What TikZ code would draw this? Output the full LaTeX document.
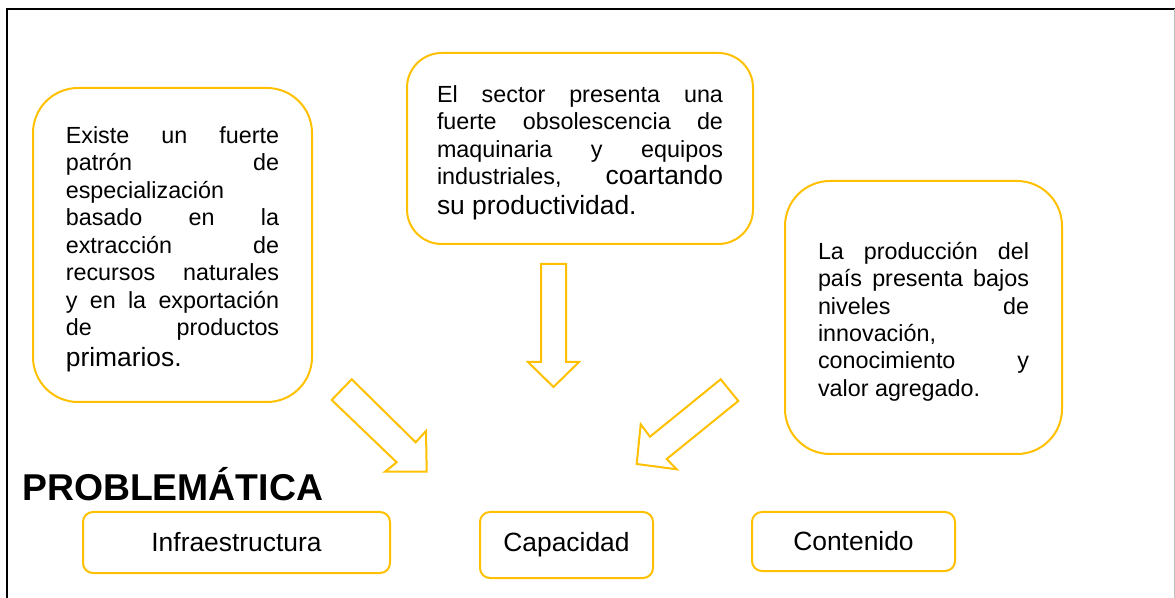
\documentclass[tikz,border=0pt]{standalone}
\usepackage{fontspec}
\setmainfont{Liberation Sans}
\usepackage{xcolor}
\usetikzlibrary{shapes,backgrounds}
\definecolor{ambar}{HTML}{FFC000}
\newcommand{\largertext}{\fontsize{19.8}{20.6}\selectfont}

\begin{document}
\begin{tikzpicture}
	[x=0.75pt,y=-0.75pt,
	ideabox/.style={draw=ambar,line width=1.5pt,align=justify,inner sep=0pt,
		font=\fontsize{17.5}{20.6}\selectfont,
		execute at begin node={\tolerance=10000\hyphenpenalty=10000\rule{0pt}{19pt}}},
	labelbox/.style={draw=ambar,line width=1.5pt,rounded corners=7.5pt,
		font=\fontsize{19.8}{23}\selectfont},
	blockarrow/.style={draw=ambar,line width=1.5pt,line join=miter}]
	\useasboundingbox (0,0) rectangle (1175,598);
	% frame
	\draw[line width=1.5pt] (7,598) -- (7,9) -- (1175,9);
	\draw[black!25,line width=0.4pt] (1174.5,9) -- (1174.5,598);
	% the three causes
	\node[ideabox,rounded corners=33.75pt,text width=160pt,minimum width=209.25pt,minimum height=235.5pt]
		(especializacion) at (172.5,245)
		{Existe un fuerte\linebreak patrón de\linebreak especialización\\
		basado en la\linebreak extracción de\linebreak recursos naturales\linebreak
		y en la exportación\linebreak de productos\linebreak
		\rule{0pt}{18.5pt}{\largertext primarios.}};
	\node[ideabox,rounded corners=26pt,text width=214.5pt,minimum width=259.5pt,minimum height=143.25pt]
		(obsolescencia) at (580,148.5)
		{El sector presenta una\linebreak fuerte obsolescencia de\linebreak
		maquinaria y equipos\linebreak industriales, {\largertext coartando}\linebreak
		\rule{0pt}{19pt}{\largertext su productividad.}};
	\node[ideabox,rounded corners=33.75pt,text width=158.25pt,minimum width=207.75pt,minimum height=204.75pt]
		(innovacion) at (923.5,317.5)
		{La producción del\linebreak país presenta bajos\linebreak niveles de\linebreak
		innovación,\\ conocimiento y\linebreak valor agregado.};
	% arrows
	\draw[blockarrow] (351.7,379.3) -- (331.7,400) -- (396.7,462.3) -- (385,471.7)
		-- (426.7,471.7) -- (426,431) -- (415.7,442.3) -- cycle;
	\draw[blockarrow] (541,264) -- (566,264) -- (566,362) -- (579,362)
		-- (553.5,387) -- (528,362) -- (541,362) -- cycle;
	\draw[blockarrow] (720.7,379.3) -- (738.3,401) -- (666.7,459) -- (676.7,469.3)
		-- (636.7,464) -- (640.7,424.3) -- (650,436.7) -- cycle;
	% title and categories
	\node[anchor=base west,inner sep=0pt,font=\bfseries\fontsize{28}{30}\selectfont]
		(problematica) at (22,500) {PROBLEMÁTICA};
	\node[labelbox,minimum width=230.25pt,minimum height=45.75pt] (infraestructura) at (236.5,542.5) {Infraestructura};
	\node[labelbox,minimum width=129.75pt,minimum height=49.5pt] (capacidad) at (566.5,545) {Capacidad};
	\node[labelbox,minimum width=152.25pt,minimum height=44.25pt] (contenido) at (853.5,541.5) {Contenido};
\end{tikzpicture}
\end{document}
